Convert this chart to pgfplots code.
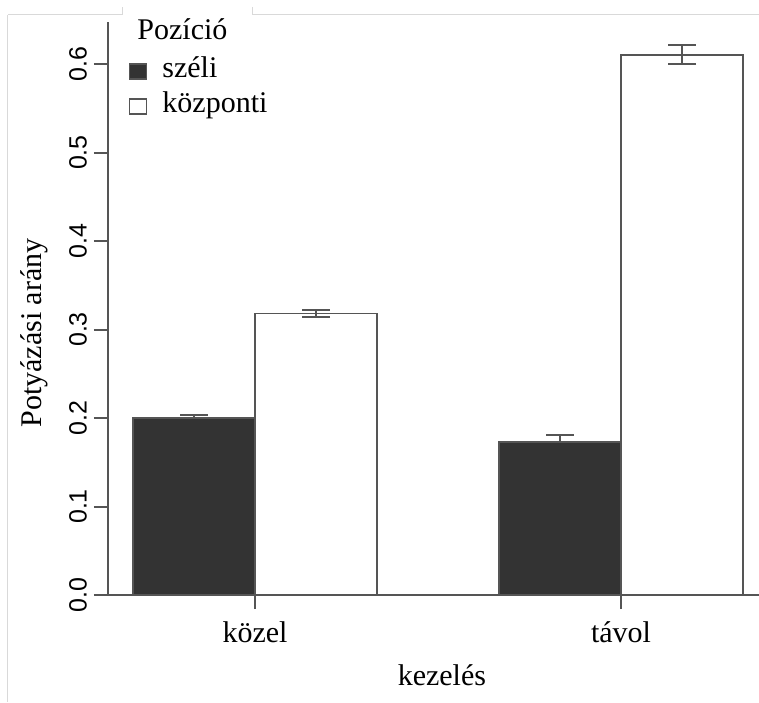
\documentclass[border=0pt]{standalone}
\usepackage{fontspec}
\setmainfont{Liberation Serif}
\newfontfamily\arialfont{Liberation Sans}
\usepackage{pgfplots}
\usepackage{pgfplotstable}
\pgfplotsset{compat=1.18}
\definecolor{barfill}{HTML}{333333}
\definecolor{linegray}{HTML}{555555}

\pgfplotstableread{
x y e
1.5 0.2000 0.0037
4.5 0.1725 0.0080
}\szeli
\pgfplotstableread{
x y e
2.5 0.3180 0.0040
5.5 0.6105 0.0105
}\kozponti

\begin{document}
\begin{tikzpicture}
\path[use as bounding box] (-54pt,-53.5pt) rectangle (325.5pt,297.5pt);
% faint scan frame
\draw[black!15, line width=0.5pt] (-50pt,290pt) -- (-50pt,-53.5pt);
\draw[black!15, line width=0.5pt] (-50pt,290pt) -- (7pt,290pt) -- (7pt,294pt);
\draw[black!15, line width=0.5pt] (72pt,294pt) -- (72pt,290pt) -- (325.5pt,290pt);
\begin{axis}[
  at={(0pt,0pt)}, anchor=south west,
  scale only axis, width=325.5pt, height=286.5pt,
  xmin=0.795, xmax=6.131, ymin=0, ymax=0.6475,
  clip=false,
  axis x line*=bottom, axis y line*=left,
  axis line style={linegray, line width=1pt},
  tick align=outside, major tick length=7pt,
  tick style={linegray, line width=1pt},
  xtick={2,5}, xticklabels={közel,távol},
  ytick={0,0.1,0.2,0.3,0.4,0.5,0.6},
  /pgf/number format/assume math mode=true,
  yticklabel={\pgfmathprintnumber[fixed,fixed zerofill,precision=1]{\tick}},
  yticklabel style={font=\arialfont\fontsize{12.5}{15}\selectfont, rotate=90, anchor=south},
  xticklabel style={font=\fontsize{15}{18}\selectfont, anchor=base, yshift=-16.85pt},
  xlabel={kezelés}, ylabel={Potyázási arány},
  every axis x label/.style={at={(axis description cs:0.5129,-0.1571)}, anchor=base, font=\fontsize{15}{18}\selectfont},
  every axis y label/.style={at={(axis description cs:-0.1029,0.4572)}, rotate=90, anchor=base, font=\fontsize{15}{18}\selectfont},
  legend cell align=left,
  legend style={draw=none, fill=none, inner sep=0pt, outer sep=0pt,
    at={(0.0323,0.9407)}, anchor=north west, row sep=3pt, column sep=7.5pt,
    nodes={inner sep=0pt, text height=11pt, text depth=3.5pt, font=\fontsize{15}{18}\selectfont},
    cells={anchor=base west}},
]
\addplot[ybar, bar width=1, bar shift=0pt, fill=barfill, draw=linegray, line width=0.9pt,
  legend image code/.code={\draw[fill=barfill, draw=linegray, line width=0.7pt] (0pt,-0.5pt) rectangle (8.5pt,7pt);},
  error bars/.cd, y dir=plus, y explicit,
  error bar style={linegray, line width=1pt},
  error mark options={rotate=90, linegray, line width=1pt, mark size=7pt}]
  table[x=x, y=y, y error=e] {\szeli};
\addlegendentry{széli}
\addplot[ybar, bar width=1, bar shift=0pt, fill=white, draw=linegray, line width=0.9pt,
  legend image code/.code={\draw[fill=white, draw=linegray, line width=0.7pt] (0pt,-0.5pt) rectangle (8.5pt,7pt);},
  error bars/.cd, y dir=both, y explicit,
  error bar style={linegray, line width=1pt},
  error mark options={rotate=90, linegray, line width=1pt, mark size=7pt}]
  table[x=x, y=y, y error=e] {\kozponti};
\addlegendentry{központi}
\draw[linegray, line width=1pt] ([xshift=-6.5pt]axis cs:0.795,0) -- (axis cs:0.795,0);
\node[anchor=base west, inner sep=0pt, font=\fontsize{15}{18}\selectfont] at (axis description cs:0.0446,0.9686) {Pozíció};
\end{axis}
\end{tikzpicture}
\end{document}
